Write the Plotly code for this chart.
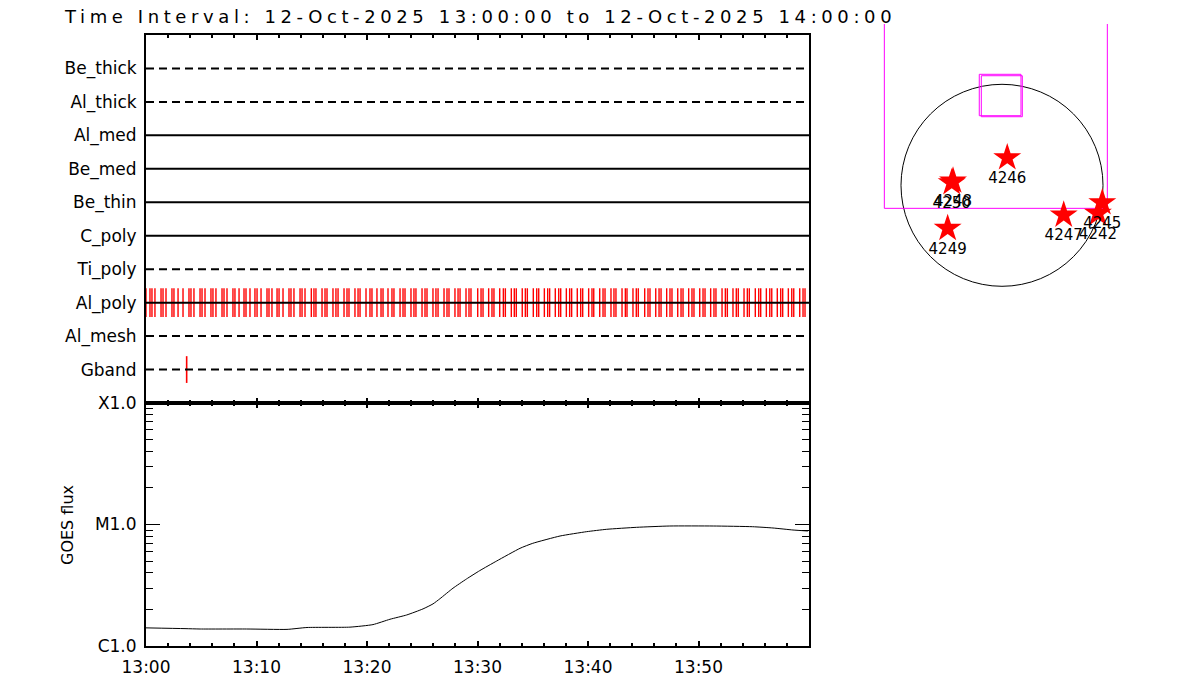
import plotly.graph_objects as go

W, H = 1200, 700

# ---------------- data ----------------
title_text = "Time Interval: 12-Oct-2025 13:00:00 to 12-Oct-2025 14:00:00"

# filters, top row first
filters = ["Be_thick", "Al_thick", "Al_med", "Be_med", "Be_thin",
           "C_poly", "Ti_poly", "Al_poly", "Al_mesh", "Gband"]
filter_in_wheel = [False, False, True, True, True, True, False, True, False, False]

# exposure times (minutes after 13:00)
alpoly_times = [0.00, 0.36, 0.54, 0.81, 1.36, 1.54, 1.81, 2.35, 2.53, 2.90, 3.35, 3.89, 4.07, 4.34,
                4.89, 5.07, 5.34, 5.88, 6.06, 6.33, 6.88, 7.06, 7.33, 7.87, 8.05, 8.42, 8.87, 9.05,
                9.41, 9.86, 10.05, 10.41, 10.95, 11.13, 11.40, 11.86, 12.04, 12.40, 12.94, 13.12,
                13.39, 13.94, 14.12, 14.39, 14.96, 15.20, 15.38, 15.93, 16.20, 16.38, 16.92, 17.19,
                17.38, 17.92, 18.19, 18.37, 18.91, 19.19, 19.37, 19.91, 20.27, 20.45, 20.90, 21.27,
                21.45, 21.90, 22.26, 22.44, 22.99, 23.26, 23.44, 23.98, 24.25, 24.43, 24.98, 25.25,
                25.43, 25.97, 26.24, 26.43, 26.97, 27.24, 27.42, 27.96, 28.24, 28.42, 28.96, 29.23,
                29.41, 30.02, 30.32, 30.50, 31.01, 31.31, 31.49, 32.01, 32.34, 32.52, 33.06, 33.33,
                33.51, 34.05, 34.33, 34.51, 35.05, 35.36, 35.54, 36.05, 36.35, 36.53, 37.04, 37.35,
                37.53, 38.04, 38.34, 38.52, 39.03, 39.34, 39.52, 40.06, 40.36, 40.52, 41.06, 41.36,
                41.54, 42.08, 42.35, 42.53, 43.08, 43.38, 43.53, 44.07, 44.37, 44.55, 45.13, 45.43,
                45.61, 46.13, 46.43, 46.61, 47.12, 47.42, 47.60, 48.12, 48.42, 48.60, 49.11, 49.41,
                49.59, 50.11, 50.41, 50.59, 51.10, 51.40, 51.58, 52.13, 52.43, 52.61, 53.12, 53.42,
                53.60, 54.12, 54.42, 54.60, 55.14, 55.45, 55.63, 56.14, 56.45, 56.63, 57.13, 57.44,
                57.62, 58.13, 58.44, 58.62, 59.16, 59.46, 59.64]
gband_times = [3.68]

# GOES flux (W/m^2), minutes after 13:00
goes_t = [0.0, 3.53, 4.9, 9.1, 12.76, 14.57, 18.46, 20.54, 22.08, 23.59, 25.07, 25.97, 26.6,
          27.78, 29.0, 30.2, 31.74, 33.85, 35.0, 37.47, 39.88, 41.69, 44.4, 47.4, 51.34, 54.9,
          56.74, 58.55, 59.9]
goes_flux = [1.41e-6, 1.39e-6, 1.38e-6, 1.38e-6, 1.37e-6, 1.42e-6, 1.43e-6, 1.50e-6, 1.66e-6,
             1.80e-6, 2.02e-6, 2.22e-6, 2.45e-6, 2.99e-6, 3.56e-6, 4.17e-6, 5.01e-6, 6.37e-6,
             7.00e-6, 8.04e-6, 8.73e-6, 9.13e-6, 9.48e-6, 9.72e-6, 9.72e-6, 9.59e-6, 9.36e-6,
             9.01e-6, 8.84e-6]

time_tickvals = [0, 10, 20, 30, 40, 50]
time_ticktext = ["13:00", "13:10", "13:20", "13:30", "13:40", "13:50"]
goes_tickvals = [1e-6, 1e-5, 1e-4]
goes_ticktext = ["C1.0", "M1.0", "X1.0"]

# solar disk / active regions (arcsec)
r_sun = 1000
ar_names = ["4246", "4250", "4248", "4249", "4247", "4245", "4242"]
ar_x = [52, -498, -485, -538, 611, 993, 950]
ar_y = [273, 26, 43, -426, -294, -172, -277]
fov_x = [-1165, -1165, 1043, 1043]
fov_y = [2500, -228, -228, 2500]
box1_x = [-225, -225, 188, 188, -225]
box1_y = [1099, 689, 689, 1099, 1099]
box2_x = [-205, -205, 201, 201, -205]
box2_y = [1085, 679, 679, 1085, 1085]

# ---------------- layout helpers ----------------
def px_x(p):
    return p / W

def px_y(p):
    return 1 - p / H

FONT = "DejaVu Sans"
fig = go.Figure()

nrows = len(filters)
row_val = [nrows - i for i in range(nrows)]

def ticks_for(times, row, half=0.43):
    xs, ys = [], []
    for t in times:
        xs += [t, t, None]
        ys += [row - half, row + half, None]
    return xs, ys

ap_row = row_val[filters.index("Al_poly")]
gb_row = row_val[filters.index("Gband")]
xs, ys = ticks_for(alpoly_times, ap_row)
fig.add_trace(go.Scatter(x=xs, y=ys, mode="lines", line=dict(color="#ff0000", width=1.4),
                         xaxis="x", yaxis="y", hoverinfo="skip"))
xs, ys = ticks_for(gband_times, gb_row, 0.4)
fig.add_trace(go.Scatter(x=xs, y=ys, mode="lines", line=dict(color="#ff0000", width=1.6),
                         xaxis="x", yaxis="y", hoverinfo="skip"))

for name, used, rv in zip(filters, filter_in_wheel, row_val):
    fig.add_trace(go.Scatter(x=[0, 60], y=[rv, rv], mode="lines",
                             line=dict(color="black", width=2,
                                       dash="solid" if used else "8px,5px"),
                             xaxis="x", yaxis="y", hoverinfo="skip"))

# GOES
fig.add_trace(go.Scatter(x=goes_t, y=goes_flux, mode="lines",
                         line=dict(color="black", width=1, shape="spline", smoothing=0.5),
                         xaxis="x2", yaxis="y2", hoverinfo="skip"))

# disk panel
fig.add_trace(go.Scatter(x=fov_x, y=fov_y, mode="lines", line=dict(color="#ff00ff", width=1),
                         xaxis="x3", yaxis="y3", hoverinfo="skip"))
fig.add_trace(go.Scatter(x=box1_x, y=box1_y, mode="lines", line=dict(color="#ff00ff", width=1),
                         xaxis="x3", yaxis="y3", hoverinfo="skip"))
fig.add_trace(go.Scatter(x=box2_x, y=box2_y, mode="lines", line=dict(color="#ff00ff", width=1),
                         xaxis="x3", yaxis="y3", hoverinfo="skip"))
fig.add_trace(go.Scatter(x=ar_x, y=ar_y, mode="markers+text", text=ar_names,
                         textposition="bottom center",
                         textfont=dict(family=FONT, size=15, color="black"),
                         marker=dict(symbol="star", size=21, color="#ff0000", line=dict(width=0)),
                         xaxis="x3", yaxis="y3", hoverinfo="skip"))

# geometry
xL, xR = 146, 809
top_t, top_b, bot_b = 35, 403, 646

time_axis_common = dict(range=[0, 60], tickvals=time_tickvals, ticks="inside", ticklen=5,
                        tickwidth=2, tickcolor="black", showline=True, linewidth=2,
                        linecolor="black", mirror="allticks", showgrid=False, zeroline=False,
                        automargin=False,
                        minor=dict(tickvals=list(range(2, 60, 2)), ticks="inside", ticklen=3,
                                   tickwidth=2, tickcolor="black", showgrid=False))

fig.update_layout(
    width=W, height=H, margin=dict(l=0, r=0, t=0, b=0, autoexpand=False),
    paper_bgcolor="white", plot_bgcolor="white", showlegend=False,
    font=dict(family=FONT, size=17, color="black"),
    xaxis=dict(domain=[px_x(xL), px_x(xR)], anchor="y", showticklabels=False,
               **time_axis_common),
    yaxis=dict(domain=[px_y(top_b), px_y(top_t)], anchor="x", range=[0, 11],
               tickvals=row_val, ticktext=filters, ticks="", showline=True, linewidth=2,
               linecolor="black", mirror=True, showgrid=False, zeroline=False,
               automargin=False, ticklabelstandoff=4, tickfont=dict(family=FONT, size=17)),
    xaxis2=dict(domain=[px_x(xL), px_x(xR)], anchor="y2", ticktext=time_ticktext,
                ticklabelstandoff=5, tickfont=dict(family=FONT, size=17), **time_axis_common),
    yaxis2=dict(domain=[px_y(bot_b), px_y(top_b)], anchor="x2", type="log", range=[-6, -4],
                tickvals=goes_tickvals, ticktext=goes_ticktext, ticks="inside", ticklen=14,
                tickwidth=1, tickcolor="black", showline=True, linewidth=2, linecolor="black",
                mirror="allticks", showgrid=False, zeroline=False, automargin=False,
                ticklabelstandoff=4, tickfont=dict(family=FONT, size=17),
                minor=dict(tickvals=[k * 1e-6 for k in range(2, 10)] + [k * 1e-5 for k in range(2, 10)],
                           ticks="inside", ticklen=7, tickwidth=1, tickcolor="black",
                           showgrid=False)),
    xaxis3=dict(domain=[px_x(860), px_x(1150)], anchor="y3", automargin=False,
                range=[(860 - 1002) / 0.101, (1150 - 1002) / 0.101], visible=False),
    yaxis3=dict(domain=[px_y(300), px_y(24)], anchor="x3", automargin=False,
                range=[(185.3 - 300) / 0.101, (185.3 - 24) / 0.101], visible=False),
)

fig.add_shape(type="circle", xref="x3", yref="y3", x0=-r_sun, y0=-r_sun, x1=r_sun, y1=r_sun,
              line=dict(color="black", width=1), layer="below")

fig.add_annotation(xref="paper", yref="paper", x=px_x(62), y=px_y(16), xanchor="left",
                   yanchor="middle", showarrow=False,
                   text='<span style="letter-spacing:4.6px">' + title_text + '</span>',
                   font=dict(family=FONT, size=18, color="black"))
fig.add_annotation(xref="paper", yref="paper", x=px_x(67), y=px_y(525), xanchor="center",
                   yanchor="middle", showarrow=False, textangle=-90, text="GOES flux",
                   font=dict(family=FONT, size=16, color="black"))

fig.write_html("out.html", config={"displayModeBar": False},
               post_script="document.body.style.margin='0';")
